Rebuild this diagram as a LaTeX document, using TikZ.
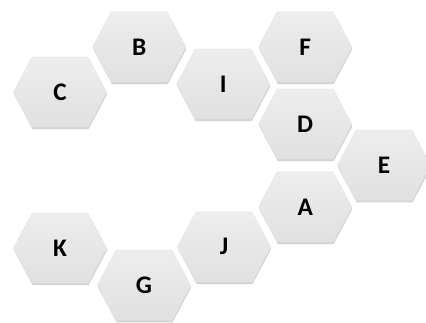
\documentclass[tikz,border=0pt]{standalone}
\usepackage{fontspec}
\setsansfont{Carlito}
\usetikzlibrary{shapes.symbols,shadows}

\begin{document}
\begin{tikzpicture}[
        hexa/.style={signal, signal to=west and east, signal pointer angle=124,
                    minimum width=2.33cm, minimum height=1.75cm, inner sep=0pt,
                    top color=black!7, bottom color=black!12, draw=white!90!black,
                    line width=0.3pt,
                    drop shadow={shadow xshift=0.4pt, shadow yshift=-1.6pt, opacity=0.35},
                    font=\sffamily\bfseries\fontsize{18}{20}\selectfont},
    ]
        \useasboundingbox (0, 0) rectangle (10.65, 8.05);

        % Upper row
        \node[hexa] (hex-c) at (1.50, 5.75) {C};
        \node[hexa] (hex-b) at (3.48, 6.88) {B};
        \node[hexa] (hex-i) at (5.58, 5.95) {I};
        \node[hexa] (hex-f) at (7.63, 6.88) {F};
        \node[hexa] (hex-d) at (7.63, 4.95) {D};

        % Right side
        \node[hexa] (hex-e) at (9.60, 3.92) {E};
        \node[hexa] (hex-a) at (7.63, 2.88) {A};

        % Lower row
        \node[hexa] (hex-j) at (5.60, 1.88) {J};
        \node[hexa] (hex-k) at (1.50, 1.85) {K};
        \node[hexa] (hex-g) at (3.60, 0.92) {G};
    \end{tikzpicture}
\end{document}
